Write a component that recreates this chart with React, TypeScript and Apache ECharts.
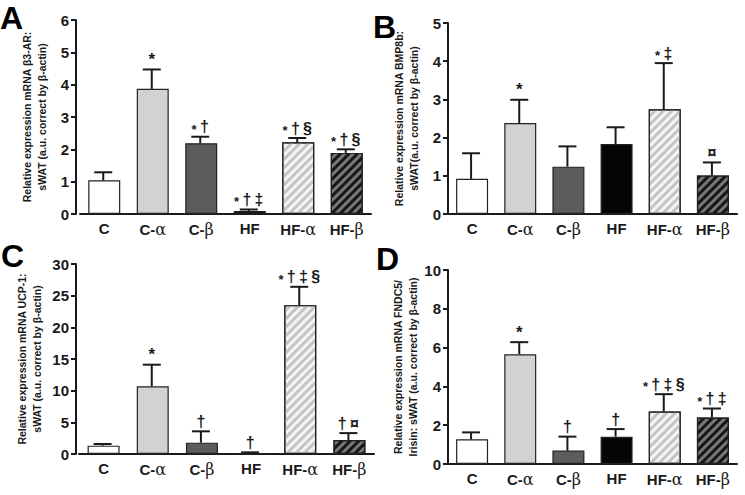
import React, { useEffect, useRef } from "react";
import * as echarts from "echarts";

const categories = ["C", "C-α", "C-β", "HF", "HF-α", "HF-β"];

const meanA = [1.04, 3.87, 2.19, 0.09, 2.22, 1.89];
const errA = [1.29, 4.47, 2.39, 0.14, 2.35, 2.0];
const sigA = ["", "*", "*†", "*†‡", "*†§", "*†§"];

const meanB = [0.92, 2.38, 1.24, 1.83, 2.74, 1.01];
const errB = [1.59, 2.99, 1.77, 2.27, 3.95, 1.35];
const sigB = ["", "*", "", "", "*‡", "¤"];

const meanC = [1.32, 10.68, 1.79, 0.16, 23.5, 2.2];
const errC = [1.58, 14.1, 3.58, 0.26, 26.4, 3.3];
const sigC = ["", "*", "†", "†", "*†‡§", "†¤"];

const meanD = [1.27, 5.66, 0.69, 1.41, 2.71, 2.4];
const errD = [1.63, 6.28, 1.41, 1.8, 3.6, 2.86];
const sigD = ["", "*", "†", "†", "*†‡§", "*†‡"];

const yMaxA = 6, yStepA = 1;
const yMaxB = 5, yStepB = 1;
const yMaxC = 30, yStepC = 5;
const yMaxD = 10, yStepD = 2;

const nameA = "Relative expression mRNA β3-AR:\nsWAT (a.u. correct by β-actin)";
const nameB = "Relative expression mRNA BMP8b:\nsWAT(a.u. correct by β-actin)";
const nameC = "Relative expression mRNA UCP-1:\nsWAT (a.u. correct by β-actin)";
const nameD = "Relative expression mRNA FNDC5/\nIrisin: sWAT (a.u. correct by β-actin)";

const FONT = "Liberation Sans, Arial, sans-serif";
const INK = "#1a1a1a";

const barStyles: any[] = [
  { color: "#ffffff" },
  { color: "#d2d2d2" },
  { color: "#5c5c5c" },
  { color: "#050505" },
  {
    color: "#f4f4f4",
    decal: {
      symbol: "rect",
      symbolSize: 1,
      color: "#c4c4c4",
      dashArrayX: [1, 0],
      dashArrayY: [3, 3],
      rotation: -Math.PI / 4,
    },
  },
  {
    color: "#777777",
    decal: {
      symbol: "rect",
      symbolSize: 1,
      color: "#161616",
      dashArrayX: [1, 0],
      dashArrayY: [3, 3],
      rotation: -Math.PI / 4,
    },
  },
];

function xLabel(v: string) {
  const i = v.indexOf("-");
  if (i < 0) return v;
  return v.slice(0, i + 1) + "{g|" + v.slice(i + 1) + "}";
}

function sigText(s: string) {
  if (s === "*") return "{b|*}";
  // asterisk drawn smaller, the other marks full size, spaced apart
  return s
    .split("")
    .map((ch) => (ch === "*" ? "{s|*}" : "{m|" + ch + "}"))
    .join("{sp| }");
}

export default function App() {
  const ref = useRef<HTMLDivElement>(null);
  useEffect(() => {
    if (!ref.current) return;
    const chart = echarts.init(ref.current, null, { renderer: "svg" });

    const grids = [
      { left: 80, top: 20, width: 291, height: 194, offset: 4 },
      { left: 448, top: 23, width: 289, height: 191, offset: 0 },
      { left: 79, top: 264, width: 295, height: 190, offset: 3 },
      { left: 448, top: 270, width: 289, height: 194, offset: 0 },
    ];
    const panels = [
      { mean: meanA, err: errA, sig: sigA, max: yMaxA, step: yStepA, name: nameA },
      { mean: meanB, err: errB, sig: sigB, max: yMaxB, step: yStepB, name: nameB },
      { mean: meanC, err: errC, sig: sigC, max: yMaxC, step: yStepC, name: nameC },
      { mean: meanD, err: errD, sig: sigD, max: yMaxD, step: yStepD, name: nameD },
    ];

    const xAxis = grids.map((g, i) => ({
      type: "category",
      gridIndex: i,
      data: categories,
      axisLine: { lineStyle: { color: INK, width: 2 } },
      axisTick: { show: false },
      axisLabel: {
        interval: 0,
        color: INK,
        fontWeight: "bold",
        fontSize: 15,
        fontFamily: FONT,
        margin: 7,
        formatter: xLabel,
        rich: {
          g: { fontFamily: "DejaVu Serif, serif", fontWeight: "normal", fontSize: 16, color: INK },
        },
      },
    }));

    const yAxis = grids.map((g, i) => ({
      type: "value",
      gridIndex: i,
      min: 0,
      max: panels[i].max,
      interval: panels[i].step,
      offset: g.offset,
      splitLine: { show: false },
      axisLine: { show: true, lineStyle: { color: INK, width: 2 } },
      axisTick: { show: true, length: 5, lineStyle: { color: INK, width: 2 } },
      axisLabel: { color: INK, fontWeight: "bold", fontSize: 15, fontFamily: FONT, margin: 7 },
      name: panels[i].name,
      nameLocation: "middle",
      nameGap: i === 2 ? 32 : 27,
      nameTextStyle: {
        color: INK,
        fontWeight: "bold",
        fontSize: 10.5,
        fontFamily: FONT,
        lineHeight: 15,
      },
    }));

    const series: any[] = [];
    panels.forEach((p, i) => {
      series.push({
        type: "bar",
        xAxisIndex: i,
        yAxisIndex: i,
        barWidth: 32,
        data: p.mean.map((v, k) => ({
          value: v,
          itemStyle: { ...barStyles[k], borderColor: "#222", borderWidth: 1.2 },
        })),
      });
      series.push({
        type: "custom",
        xAxisIndex: i,
        yAxisIndex: i,
        z: 5,
        data: p.mean.map((v, k) => [k, v, p.err[k]]),
        renderItem: (params: any, api: any) => {
          const k = api.value(0);
          const a = api.coord([k, api.value(1)]);
          const b = api.coord([k, api.value(2)]);
          const x = a[0] - 1;
          const label = p.sig[params.dataIndex];
          return {
            type: "group",
            children: [
              { type: "line", shape: { x1: x, y1: a[1], x2: x, y2: b[1] }, style: { stroke: INK, lineWidth: 2 } },
              { type: "line", shape: { x1: x - 9, y1: b[1], x2: x + 9, y2: b[1] }, style: { stroke: INK, lineWidth: 2 } },
              {
                type: "text",
                x: x,
                y: b[1] - 1,
                style: {
                  text: label ? sigText(label) : "",
                  align: "center",
                  verticalAlign: "bottom",
                  fill: INK,
                  rich: {
                    b: { fontSize: 17, fontWeight: "bold", fontFamily: FONT, fill: INK, lineHeight: 18 },
                    s: { fontSize: 13, fontWeight: "bold", fontFamily: FONT, fill: INK, verticalAlign: "bottom", lineHeight: 14 },
                    m: { fontSize: 16, fontWeight: "bold", fontFamily: FONT, fill: INK, lineHeight: 18 },
                    sp: { fontSize: 12, fontFamily: FONT, lineHeight: 18 },
                  },
                },
              },
            ],
          };
        },
      });
    });

    const letter = (t: string, x: number, y: number) => ({
      type: "text",
      x,
      y,
      style: { text: t, font: "bold 32px " + FONT, fill: "#000", align: "left", verticalAlign: "top" },
    });

    chart.setOption({
      animation: false,
      backgroundColor: "#ffffff",
      grid: grids.map((g) => ({ left: g.left, top: g.top, width: g.width, height: g.height })),
      xAxis,
      yAxis,
      series,
      graphic: [letter("A", 0, 2), letter("B", 373, 11), letter("C", 1, 240), letter("D", 376, 243)],
    });
    return () => chart.dispose();
  }, []);
  return (
    <div
      ref={ref}
      style={{ position: "fixed", left: 0, top: 0, width: 745, height: 495, background: "#fff" }}
    />
  );
}
